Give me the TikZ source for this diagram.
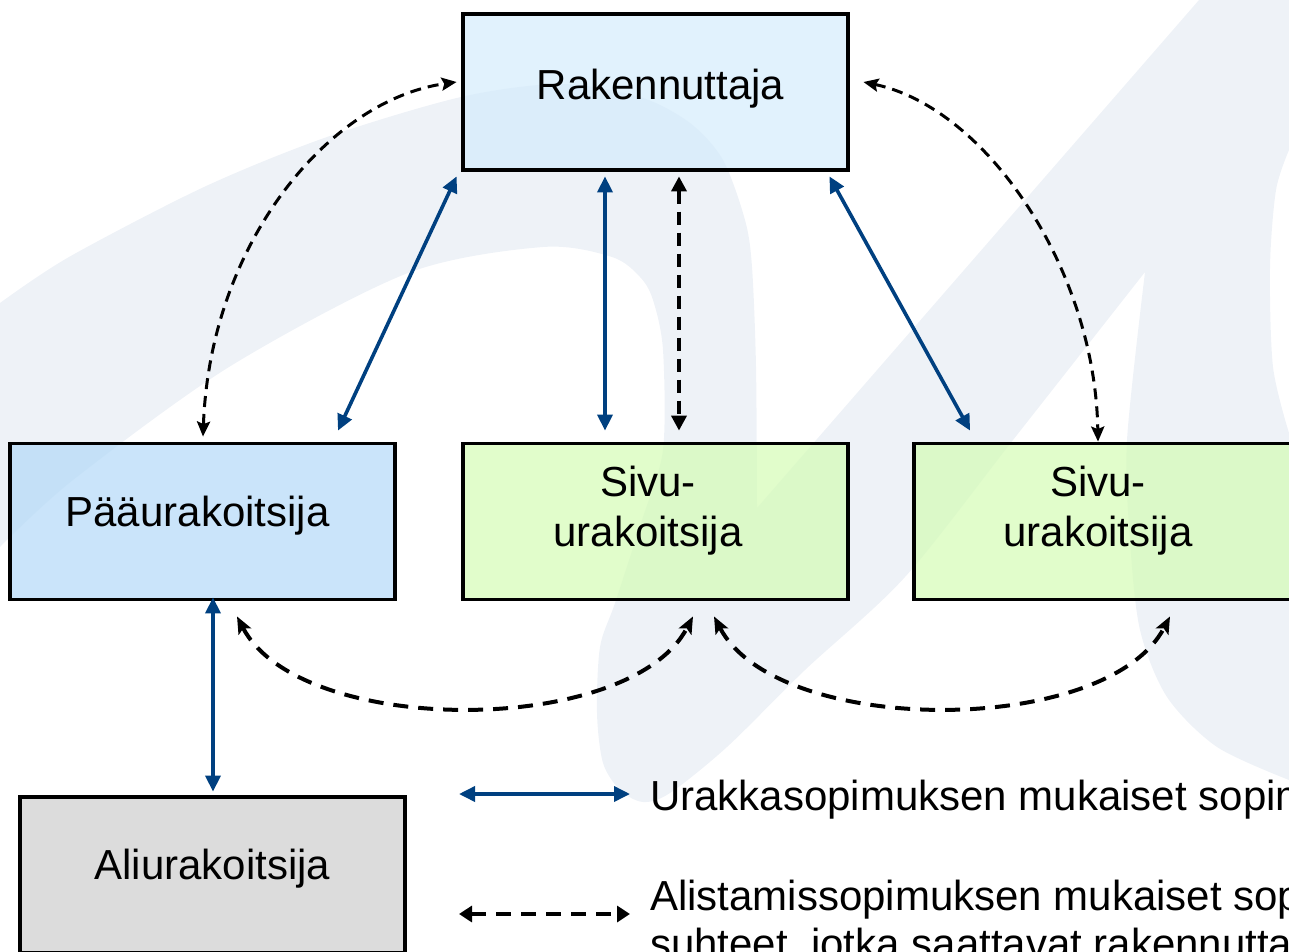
\documentclass[tikz,border=0pt]{standalone}
\usepackage{fontspec}
\setmainfont{Liberation Sans}
\usetikzlibrary{arrows.meta}
\definecolor{ublue}{RGB}{0,64,128}
\definecolor{wm}{RGB}{238,242,247}
\definecolor{rfill}{RGB}{212,236,252}
\definecolor{pfill}{RGB}{179,217,248}
\definecolor{sfill}{RGB}{212,252,181}
\definecolor{afill}{RGB}{205,205,205}
\tikzset{
  box/.style={draw=black, line width=3.8pt, minimum width=385pt, minimum height=156pt,
    inner sep=0pt, fill opacity=0.7, text opacity=1},
  boxtext/.style={font=\fontsize{42}{50}\selectfont, align=center, inner sep=0pt,
    fill opacity=1, text opacity=1},
  legtext/.style={font=\fontsize{42}{50}\selectfont, inner sep=0pt, anchor=base west},
  bluearr/.style={draw=ublue, line width=3.6pt,
    arrows={Triangle[length=16pt,width=15pt]-Triangle[length=16pt,width=15pt]}},
  dasharr/.style={draw=black, line width=3pt, dash pattern=on 11pt off 7pt,
    arrows={Stealth[length=15pt,width=13pt,inset=2.5pt]-Stealth[length=15pt,width=13pt,inset=2.5pt]}},
  dashvert/.style={draw=black, line width=3.6pt, dash pattern=on 13pt off 8pt,
    arrows={Triangle[length=15pt,width=15pt]-Triangle[length=15pt,width=15pt]}},
  dashlow/.style={draw=black, line width=4pt, dash pattern=on 15pt off 10pt,
    arrows={Stealth[length=17pt,width=14pt,inset=3.5pt]-Stealth[length=17pt,width=14pt,inset=3.5pt]}},
  dashleg/.style={draw=black, line width=4.2pt, dash pattern=on 15pt off 10pt,
    arrows={Triangle[length=13pt,width=16pt]-Triangle[length=13pt,width=16pt]}},
}
\begin{document}
\begin{tikzpicture}[x=1pt,y=-1pt]
\useasboundingbox (0,0) rectangle (1289,952);
\clip (0,0) rectangle (1289,952);

% background watermark
\fill[wm] plot[smooth, tension=0.5] coordinates {(0,303) (69,257) (204,187) (327,137) (461,97) (560,84) (640,97) (690,123) (723,160) (745,220) (752,267) (756,367) (757,508)}
 -- (1199,0) -- (1289,0) -- (1289,150)
 -- plot[smooth, tension=0.5] coordinates {(1289,150) (1276,190) (1270,267) (1273,367) (1289,433)}
 -- (1289,780)
 -- plot[smooth, tension=0.5] coordinates {(1289,780) (1217,747) (1167,697) (1140,630) (1130,540) (1127,440) (1145,272)}
 -- plot[smooth, tension=0.5] coordinates {(1145,272) (1013,440) (905,577) (805,670) (727,747) (670,793) (643,802) (620,790) (603,763) (597,713) (600,647) (615,603) (642,520) (663,450) (663,350) (653,300) (640,277) (612,257) (543,247) (408,273) (229,367) (73,480) (0,547)}
 -- cycle;

% boxes
\node[box, fill=rfill, label={[boxtext, xshift=5pt, yshift=3pt]center:Rakennuttaja}] (R) at (655.5,92) {};
\node[box, fill=pfill, label={[boxtext, xshift=-5pt, yshift=5.5pt]center:Pääurakoitsija}] (P) at (202.5,521.5) {};
\node[box, fill=sfill, label={[boxtext, xshift=-7.5pt, yshift=10.5pt]center:{Sivu-\\urakoitsija}}] (S1) at (655.5,521.5) {};
\node[box, fill=sfill, label={[boxtext, xshift=-8.5pt, yshift=10.5pt]center:{Sivu-\\urakoitsija}}] (S2) at (1106.5,521.5) {};
\node[box, fill=afill, label={[boxtext, yshift=6pt]center:Aliurakoitsija}] (A) at (212.5,875) {};

% contract relations
\draw[bluearr] ([xshift=-4.5pt,yshift=-4.5pt]R.south west) -- ([xshift=135.5pt,yshift=11pt]P.north);
\draw[bluearr] ([xshift=-50.5pt,yshift=-4.5pt]R.south) -- ([xshift=-50.5pt,yshift=11pt]S1.north);
\draw[dashvert] ([xshift=23.5pt,yshift=-4.5pt]R.south) -- ([xshift=23.5pt,yshift=11pt]S1.north);
\draw[bluearr] ([xshift=-20.5pt,yshift=-4.5pt]R.south east) -- ([xshift=58pt,yshift=11pt]S2.north west);
\draw[bluearr] ([xshift=10.5pt,yshift=4pt]P.south) -- ([xshift=0.5pt,yshift=3.5pt]A.north);

% subordination relations
\draw[dasharr] ([xshift=0.5pt,yshift=5pt]P.north) .. controls +(7,-193) and +(-128,18) .. ([xshift=-4.5pt,yshift=10pt]R.west);
\draw[dasharr] ([xshift=13.5pt,yshift=10pt]R.east) .. controls +(123,26) and +(-3,-173) .. ([xshift=-8.5pt]S2.north);
\draw[dashlow] ([xshift=34.5pt,yshift=-15pt]P.south) .. controls +(63,121) and +(-63,121) .. ([xshift=37.5pt,yshift=-15pt]S1.south);
\draw[dashlow] ([xshift=58.5pt,yshift=-15pt]S1.south) .. controls +(63,121) and +(-63,121) .. ([xshift=63.5pt,yshift=-15pt]S2.south);

% legend
\coordinate (l1a) at (459,794);
\coordinate (l1b) at (630,794);
\coordinate (l2a) at (459,914);
\coordinate (l2b) at (630,914);
\draw[bluearr] (l1a) -- (l1b);
\draw[dashleg] (l2a) -- (l2b);
\node[legtext] (t1) at (650,810) {Urakkasopimuksen mukaiset sopimussuhteet};
\node[legtext] (t2) at (650,910) {Alistamissopimuksen mukaiset sopimus-};
\node[legtext] (t3) at (650,958) {suhteet, jotka saattavat rakennuttajan};
\end{tikzpicture}
\end{document}
